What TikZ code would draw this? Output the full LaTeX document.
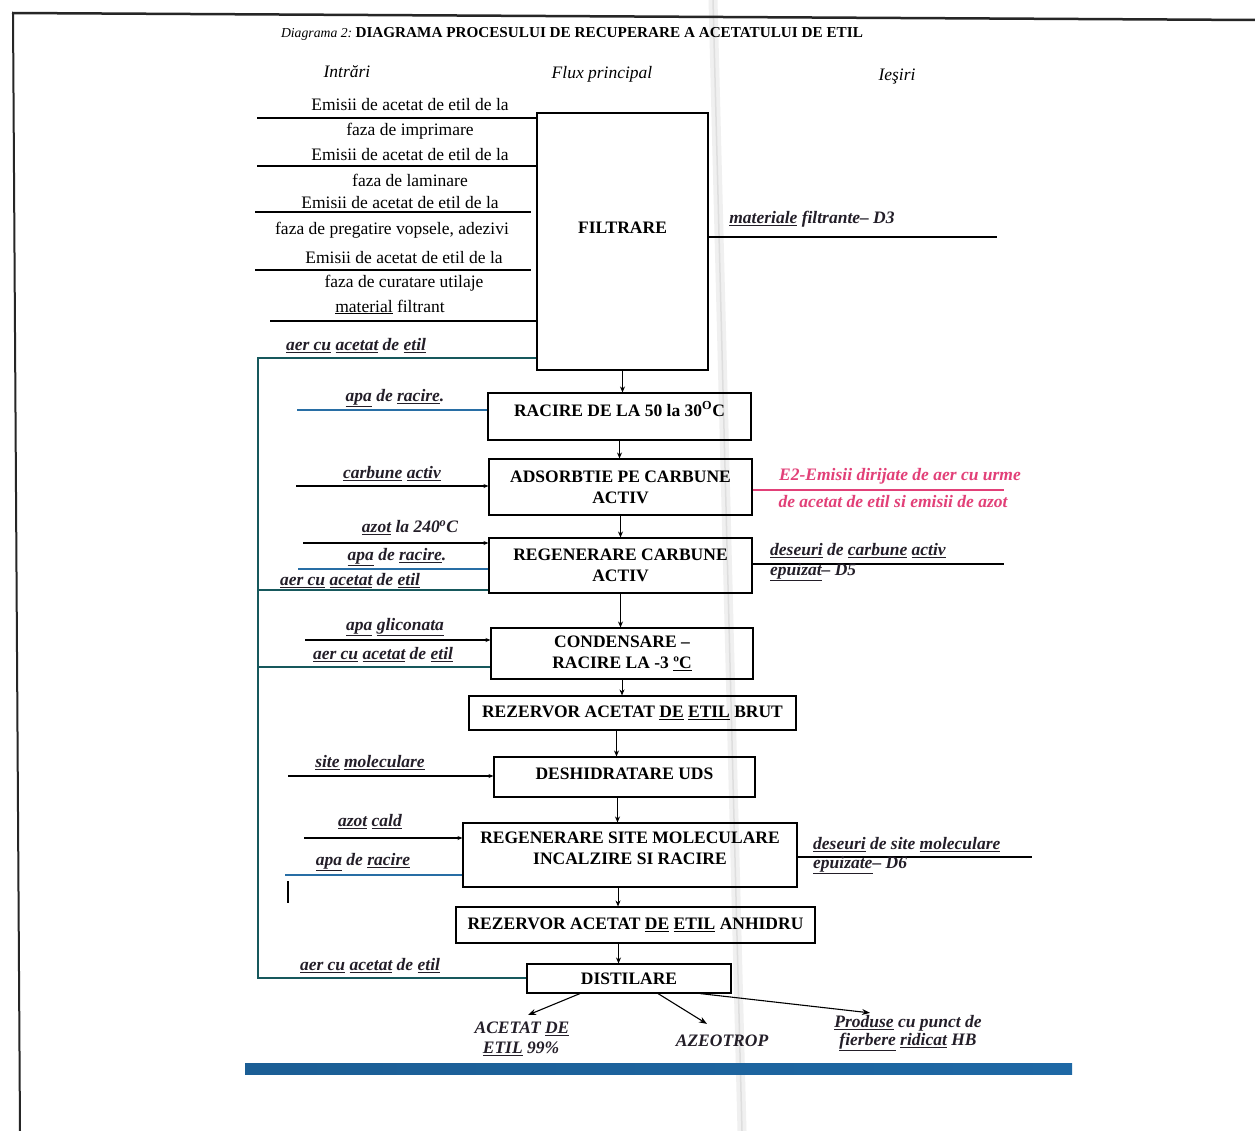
\documentclass[tikz,border=0pt]{standalone}
\usepackage{fontspec}
\setmainfont{Liberation Serif}
\usetikzlibrary{arrows.meta,calc}
\definecolor{tealline}{RGB}{22,88,92}
\definecolor{blueline}{RGB}{40,110,165}
\definecolor{pinktxt}{RGB}{226,64,120}
\definecolor{labtxt}{RGB}{35,30,40}
\definecolor{barblue}{RGB}{30,104,165}
\newcommand\fsz{\fontsize{17.5}{21}\selectfont}
\newcommand\ul[1]{\underline{#1}}
\begin{document}
\begin{tikzpicture}[x=1pt,y=-1pt,
  box/.style={draw, line width=1.1pt, font=\fsz\bfseries, align=center, inner sep=0pt},
  boxtxt/.style={font=\fsz\bfseries, align=center, inner sep=0pt},
  lbl/.style={font=\fsz\bfseries\itshape, text=labtxt, inner sep=1pt},
  txt/.style={font=\fsz, inner sep=1pt},
  hdr/.style={font=\fsz\itshape, inner sep=1pt},
  inl/.style={line width=1.7pt},
  thinl/.style={line width=1.1pt},
  bluel/.style={line width=1.6pt, draw=blueline},
  teall/.style={line width=1.9pt, draw=tealline},
  arr/.style={-{Stealth[length=6pt,width=5pt]}, line width=0.9pt},
  bigarr/.style={-{Stealth[length=8pt,width=6pt]}, line width=1.1pt},
  smarr/.style={-{Stealth[length=5pt,width=4pt]}}]
\useasboundingbox (0,0) rectangle (1255,1131);
\fill[white] (0,0) rectangle (1255,1131);
% scan fold and page border
\draw[line width=9pt, black!6] (713,0) -- (742,1131);
\draw[line width=1.5pt, black!13] (713,0) -- (742,1131);
\draw[line width=2.5pt, black!85] (12,13) -- (1255,20);
\draw[line width=2pt, black!85] (13,13) -- (20,1131);

% title and headers
\node[inner sep=1pt] (title) at (572,34) {{\fontsize{13.7}{15}\selectfont\itshape Diagrama 2:} {\fontsize{15.2}{17}\selectfont\bfseries DIAGRAMA PROCESULUI DE RECUPERARE A ACETATULUI DE ETIL}};
\node[hdr] (h1) at (347,72) {Intrări};
\node[hdr] (h2) at (602,74) {Flux principal};
\node[hdr] (h3) at (897,77) {Ieşiri};

% main boxes
\node[box, minimum width=171pt, minimum height=257pt] (filt) at (622.5,241.5) {};
\node[boxtxt] (filtt) at (622.5,228) {FILTRARE};
\node[box, minimum width=263pt, minimum height=47pt] (rac) at (619.5,416.5) {};
\node[boxtxt] (ract) at (619.5,409) {RACIRE DE LA 50 la 30\textsuperscript{O}C};
\node[box, minimum width=263pt, minimum height=56pt] (ads) at (620.5,487) {ADSORBTIE PE CARBUNE\\ACTIV};
\node[box, minimum width=263pt, minimum height=55pt] (regc) at (620.5,565.5) {REGENERARE CARBUNE\\ACTIV};
\node[box, minimum width=262pt, minimum height=51pt] (cond) at (622,653.5) {CONDENSARE –\\RACIRE LA -3 \ul{ºC}};
\node[box, minimum width=327pt, minimum height=34pt] (rzb) at (632.5,713) {REZERVOR ACETAT \ul{DE} \ul{ETIL} BRUT};
\node[box, minimum width=261pt, minimum height=40pt] (desh) at (624.5,777) {};
\node[boxtxt] (desht) at (624.5,774) {DESHIDRATARE UDS};
\node[box, minimum width=334pt, minimum height=64pt] (regs) at (630,855) {};
\node[boxtxt] (regst) at (630,848) {REGENERARE SITE MOLECULARE\\INCALZIRE SI RACIRE};
\node[box, minimum width=359pt, minimum height=36pt] (rza) at (635.5,925) {REZERVOR ACETAT \ul{DE} \ul{ETIL} ANHIDRU};
\node[box, minimum width=204pt, minimum height=29pt] (dist) at (629,978.5) {DISTILARE};

% main flow arrows
\draw[arr] (filt.south) -- (filt.south |- rac.north);
\draw[arr] (rac.south) -- (rac.south |- ads.north);
\draw[arr] (ads.south) -- (ads.south |- regc.north);
\draw[arr] (regc.south) -- (regc.south |- cond.north);
\draw[arr] (cond.south) -- (cond.south |- rzb.north);
\draw[arr] ([xshift=-16pt]rzb.south) -- ([xshift=-16pt]rzb.south |- desh.north);
\draw[arr] ([xshift=-7pt]desh.south) -- ([xshift=-7pt]desh.south |- regs.north);
\draw[arr] ([xshift=-12pt]regs.south) -- ([xshift=-12pt]regs.south |- rza.north);
\draw[arr] ([xshift=-17pt]rza.south) -- ([xshift=-17pt]rza.south |- dist.north);

% inputs to FILTRARE
\coordinate (e1) at (257,118);
\coordinate (e2) at (257,166);
\coordinate (e3) at (255,212);
\coordinate (e4) at (255,270);
\coordinate (e5) at (270,321);
\draw[inl] (e1) -- (filt.west |- e1);
\draw[inl] (e2) -- (filt.west |- e2);
\draw[inl] (e3) -- ([xshift=-5pt]filt.west |- e3);
\draw[inl] (e4) -- ([xshift=-5pt]filt.west |- e4);
\draw[thinl] (e5) -- (filt.west |- e5);
\node[txt] (t1a) at (410,105) {Emisii de acetat de etil de la};
\node[txt] (t1b) at (410,131) {faza de imprimare};
\node[txt] (t2a) at (410,155) {Emisii de acetat de etil de la};
\node[txt] (t2b) at (410,180) {faza de laminare};
\node[txt] (t3a) at (400,203) {Emisii de acetat de etil de la};
\node[txt] (t3b) at (392,230) {faza de pregatire vopsele, adezivi};
\node[txt] (t4a) at (404,258) {Emisii de acetat de etil de la};
\node[txt] (t4b) at (404,283) {faza de curatare utilaje};
\node[txt] (t5) at (390,307) {\ul{material} filtrant};

% air recirculation line (left)
\coordinate (L1) at (258,358);
\coordinate (L2) at (258,590);
\coordinate (L3) at (258,667);
\coordinate (L4) at (258,978);
\draw[teall] (filt.west |- L1) -- (L1) -- (L4) -- (dist.west |- L4);
\draw[teall] (L2) -- (regc.west |- L2);
\draw[teall] (L3) -- (cond.west |- L3);
\node[lbl] (a1) at (356,346) {\ul{aer cu} \ul{acetat} de \ul{etil}};
\node[lbl] (a2) at (350,581) {\ul{aer cu} \ul{acetat} de \ul{etil}};
\node[lbl] (a3) at (383,655) {\ul{aer cu} \ul{acetat} de \ul{etil}};
\node[lbl] (a4) at (370,966) {\ul{aer cu} \ul{acetat} de \ul{etil}};

% RACIRE inputs
\coordinate (r1) at (297,410);
\draw[bluel] (r1) -- (rac.west |- r1);
\node[lbl] (lr1) at (395,398) {\ul{apa} de \ul{racire}.};

% ADSORBTIE
\coordinate (c1) at (296,486);
\draw[thinl, smarr] (c1) -- (ads.west |- c1);
\node[lbl] (lc1) at (392,474) {\ul{carbune} \ul{activ}};
\coordinate (p1) at (1004,490);
\draw[line width=1.3pt, draw=pinktxt] (ads.east |- p1) -- (p1);
\node[lbl, text=pinktxt] (lp1) at (900,476) {E2-Emisii dirijate de aer cu urme};
\node[lbl, text=pinktxt] (lp2) at (893,502) {de acetat de etil si emisii de azot};

% REGENERARE CARBUNE
\coordinate (g1) at (303,543);
\coordinate (g2) at (298,569);
\draw[thinl, smarr] (g1) -- (regc.west |- g1);
\draw[bluel] (g2) -- (regc.west |- g2);
\node[lbl] (lg1) at (410,528) {\ul{azot} la 240\textsuperscript{o}C};
\node[lbl] (lg2) at (397,557) {\ul{apa} de \ul{racire}.};
\coordinate (o2) at (1004,564);
\draw[inl] (regc.east |- o2) -- (o2);
\node[lbl, anchor=west] (lo2a) at (769,551) {\ul{deseuri} de \ul{carbune} \ul{activ}};
\node[lbl, anchor=west] (lo2b) at (769,572) {\ul{epuizat}– D5};

% CONDENSARE
\coordinate (k1) at (305,640);
\draw[thinl, smarr] (k1) -- (cond.west |- k1);
\node[lbl] (lk1) at (395,627) {\ul{apa} \ul{gliconata}};

% DESHIDRATARE
\coordinate (d1) at (288,776);
\draw[thinl, smarr] (d1) -- (desh.west |- d1);
\node[lbl] (ld1) at (370,763) {\ul{site} \ul{moleculare}};

% REGENERARE SITE
\coordinate (s1) at (304,838);
\coordinate (s2) at (285,875);
\draw[thinl, smarr] (s1) -- (regs.west |- s1);
\draw[bluel] (s2) -- (regs.west |- s2);
\node[lbl] (ls1) at (370,822) {\ul{azot} \ul{cald}};
\node[lbl] (ls2) at (363,862) {\ul{apa} de \ul{racire}};
\draw[line width=1.3pt] (288,881) -- (288,903);
\coordinate (o3) at (1032,857);
\draw[inl] (regs.east |- o3) -- (o3);
\node[lbl, anchor=west] (lo3a) at (812,845) {\ul{deseuri} de site \ul{moleculare}};
\node[lbl, anchor=west] (lo3b) at (812,865) {\ul{epuizate}– D6};

% FILTRARE output
\coordinate (o1) at (997,237);
\draw[inl] (filt.east |- o1) -- (o1);
\node[lbl] (lo1) at (812,219) {\ul{materiale} filtrante– D3};

% DISTILARE outputs
\node[lbl] (q1a) at (522,1029) {ACETAT \ul{DE}};
\node[lbl] (q1b) at (521,1049) {\ul{ETIL} 99\%};
\node[lbl] (q2) at (722,1041) {AZEOTROP};
\node[lbl] (q3a) at (908,1023) {\ul{Produse} cu punct de};
\node[lbl] (q3b) at (908,1042) {\ul{fierbere} \ul{ridicat} HB};
\draw[bigarr] ([xshift=-49pt]dist.south) -- ([xshift=6pt,yshift=6pt]q1a.north);
\draw[bigarr] ([xshift=29pt]dist.south) -- ([xshift=-15pt,yshift=10pt]q2.north);
\draw[bigarr] ([xshift=71pt]dist.south) -- ([xshift=-38pt,yshift=1pt]q3a.north);

% bottom bar
\shade[left color=barblue!90!black, right color=barblue] (245,1063) rectangle (1072,1074);
\end{tikzpicture}
\end{document}
